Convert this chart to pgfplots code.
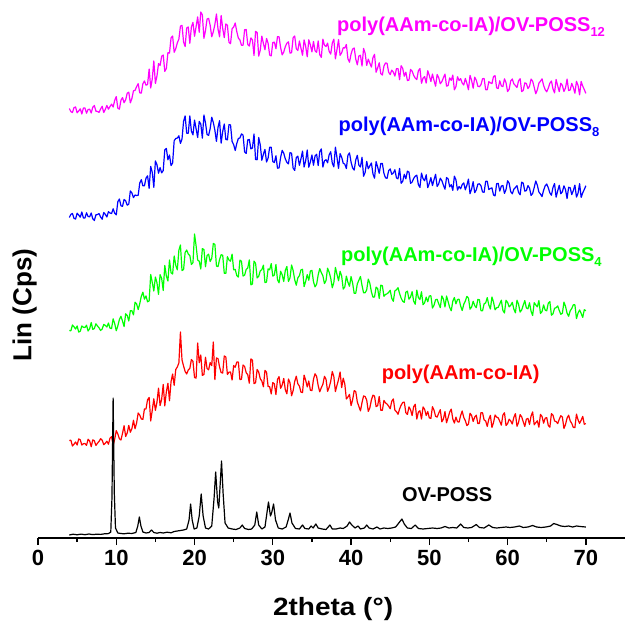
\documentclass[border=0pt]{standalone}
\usepackage{fontspec}
\setmainfont{Liberation Sans}
\usepackage{pgfplots}
\pgfplotsset{compat=1.18}
\definecolor{cmag}{RGB}{255,0,255}
\definecolor{cblu}{RGB}{0,0,255}
\definecolor{cgrn}{RGB}{0,255,0}
\definecolor{cred}{RGB}{255,0,0}
\begin{document}
\begin{tikzpicture}
\begin{axis}[
  scale only axis, width=587pt, height=538pt,
  xmin=0, xmax=75, ymin=0, ymax=538,
  axis x line*=bottom, hide y axis,
  x axis line style={-, line width=1.3pt},
  xtick={0,10,...,70}, minor xtick={5,15,...,65},
  tick align=outside, major tick length=7pt, minor tick length=4pt,
  tick style={black, line width=1.3pt},
  xticklabel style={font=\fontsize{22}{22}\selectfont\bfseries, yshift=-2pt},
  /pgf/number format/assume math mode=true,
  clip=false, no markers,
  every axis plot/.append style={line width=1.2pt, line join=round},
]
% magenta
\addplot[cmag] coordinates {
(4.0,429.5)(4.2,426.4)(4.4,425.5)(4.6,430.4)(4.8,431)(5.0,425.2)(5.2,427)(5.4,429.2)(5.6,424)(5.8,430)(6.0,430)(6.2,424.8)(6.4,428.5)(6.6,428.8)(6.8,425)(7.0,430.8)(7.2,432.5)(7.4,426.8)(7.6,426.5)(7.8,425.6)
(8.0,429)(8.2,431.7)(8.4,425.5)(8.6,428.7)(8.8,432.5)(9.0,428.8)(9.2,431.5)(9.4,433.9)(9.6,431)(9.8,437.6)(10.0,441.4)(10.2,429.9)(10.4,428.8)(10.6,437.8)(10.8,440.4)(11.0,435.3)(11.2,438.2)(11.4,444.8)(11.6,445.8)(11.8,435.1)
(12.0,439.6)(12.2,447.2)(12.4,447.6)(12.6,451.4)(12.8,454.3)(13.0,445.2)(13.2,444.9)(13.4,454.2)(13.6,457.1)(13.8,452.8)(14.0,453.5)(14.2,469)(14.4,450)(14.6,459.1)(14.8,477)(15.0,454.5)(15.2,462)(15.4,474.4)(15.6,472.5)(15.8,481.7)
(16.0,483)(16.2,466.6)(16.4,469.5)(16.6,485.3)(16.8,484.9)(17.0,500.1)(17.2,502)(17.4,485.7)(17.6,489.3)(17.8,495.1)(18.0,498.9)(18.2,511.8)(18.4,512.7)(18.6,496)(18.8,491.5)(19.0,510)(19.2,511)(19.4,494.7)(19.6,511)(19.8,515.6)
(20.0,501.7)(20.2,511.3)(20.4,521.1)(20.6,505.7)(20.8,526)(21.0,523.1)(21.2,499.7)(21.4,507.4)(21.6,518.9)(21.8,519.7)(22.0,512.6)(22.2,501.2)(22.4,506.3)(22.6,513.5)(22.8,524)(23.0,509)(23.2,501.2)(23.4,522.5)(23.6,509.6)(23.8,500.4)
(24.0,514)(24.2,512.8)(24.4,495.8)(24.6,494.3)(24.8,509.2)(25.0,510.9)(25.2,515)(25.4,506.4)(25.6,499.9)(25.8,498)(26.0,492.7)(26.2,492.7)(26.4,508.2)(26.6,508.5)(26.8,493.6)(27.0,492)(27.2,500.1)(27.4,498)(27.6,482.5)(27.8,506.7)
(28.0,505.5)(28.2,481.9)(28.4,488)(28.6,501.9)(28.8,494.5)(29.0,488.3)(29.2,499.5)(29.4,494.8)(29.6,482.9)(29.8,482.1)(30.0,495.4)(30.2,495.9)(30.4,489.3)(30.6,501.4)(30.8,501.2)(31.0,490.4)(31.2,483.1)(31.4,486)(31.6,491.4)(31.8,494.8)
(32.0,496.2)(32.2,484.9)(32.4,485.3)(32.6,500.3)(32.8,502)(33.0,489.3)(33.2,487.5)(33.4,497)(33.6,489.8)(33.8,482.7)(34.0,498.1)(34.2,491.6)(34.4,481.2)(34.6,498.2)(34.8,493.1)(35.0,486.1)(35.2,496.6)(35.4,487.2)(35.6,485.7)(35.8,497.1)
(36.0,483.3)(36.2,480.6)(36.4,498.8)(36.6,492.7)(36.8,491.5)(37.0,494.9)(37.2,486.6)(37.4,483.9)(37.6,494.9)(37.8,498.8)(38.0,479.2)(38.2,488.3)(38.4,498.4)(38.6,482.7)(38.8,485.2)(39.0,490.3)(39.2,490)(39.4,493.5)(39.6,479.2)(39.8,475.8)
(40.0,484)(40.2,488.9)(40.4,490)(40.6,478.9)(40.8,473.2)(41.0,482.1)(41.2,482.7)(41.4,471.9)(41.6,489.6)(41.8,484.7)(42.0,472.6)(42.2,478.9)(42.4,474.8)(42.6,470.9)(42.8,480.5)(43.0,483.7)(43.2,465.8)(43.4,470.1)(43.6,475.2)(43.8,464.3)
(44.0,463)(44.2,471.9)(44.4,475.1)(44.6,474.7)(44.8,465.9)(45.0,463.4)(45.2,467.9)(45.4,465.9)(45.6,461.9)(45.8,469.3)(46.0,469.4)(46.2,458.3)(46.4,472.3)(46.6,469.6)(46.8,461.8)(47.0,465.8)(47.2,457.5)(47.4,457.9)(47.6,468.6)(47.8,466.9)
(48.0,462.6)(48.2,459.9)(48.4,458.4)(48.6,467.3)(48.8,469.4)(49.0,454.7)(49.2,459.9)(49.4,461.4)(49.6,454.9)(49.8,467.3)(50.0,462.6)(50.2,456.5)(50.4,463.9)(50.6,457.6)(50.8,451.8)(51.0,463.6)(51.2,460.3)(51.4,454.3)(51.6,456.3)(51.8,460.3)
(52.0,463.9)(52.2,451.8)(52.4,452.6)(52.6,460.1)(52.8,457.6)(53.0,462.9)(53.2,448.1)(53.4,451.3)(53.6,461.3)(53.8,457.5)(54.0,459.4)(54.2,454.9)(54.4,453)(54.6,459.6)(54.8,454.6)(55.0,448.3)(55.2,462.6)(55.4,457.7)(55.6,449.8)(55.8,460.8)
(56.0,457.8)(56.2,451.8)(56.4,451.3)(56.6,453.3)(56.8,459.3)(57.0,459.5)(57.2,448.3)(57.4,448.2)(57.6,456.3)(57.8,455.2)(58.0,454.3)(58.2,461.5)(58.4,462.3)(58.6,450.1)(58.8,449.5)(59.0,457.2)(59.2,452.1)(59.4,451.4)(59.6,459.2)(59.8,455.3)
(60.0,446.4)(60.2,448.7)(60.4,457.1)(60.6,459)(60.8,454.2)(61.0,452.4)(61.2,450.5)(61.4,457.1)(61.6,459.3)(61.8,446.5)(62.0,447.5)(62.2,455.2)(62.4,454.5)(62.6,449.4)(62.8,451.7)(63.0,458.9)(63.2,456.9)(63.4,450.7)(63.6,444.2)(63.8,448.2)
(64.0,454.8)(64.2,456.8)(64.4,459.2)(64.6,452.7)(64.8,448.3)(65.0,446.2)(65.2,449.9)(65.4,454.8)(65.6,457)(65.8,449.1)(66.0,445.1)(66.2,458.5)(66.4,452.2)(66.6,446.4)(66.8,454.7)(67.0,452.6)(67.2,446.5)(67.4,450.1)(67.6,458.9)(67.8,447.5)
(68.0,448)(68.2,454.6)(68.4,450.5)(68.6,444.8)(68.8,456.7)(69.0,452.7)(69.2,443.1)(69.4,456.6)(69.6,451.9)(69.8,448.4)(70.0,444.6)
};
% blue
\addplot[cblu] coordinates {
(4.0,320.5)(4.2,323.6)(4.4,324.5)(4.6,319.6)(4.8,319)(5.0,324.8)(5.2,323)(5.4,320.8)(5.6,326)(5.8,320)(6.0,320)(6.2,325.2)(6.4,321.5)(6.6,321.2)(6.8,325)(7.0,319.2)(7.2,317.5)(7.4,323.2)(7.6,323.5)(7.8,324.4)
(8.0,321)(8.2,318.8)(8.4,325.5)(8.6,323.6)(8.8,321)(9.0,326.3)(9.2,325)(9.4,324.5)(9.6,329.2)(9.8,324.8)(10.0,323.1)(10.2,336.3)(10.4,339)(10.6,332.2)(10.8,331.7)(11.0,338.5)(11.2,337.2)(11.4,332.8)(11.6,333.9)(11.8,347.1)
(12.0,345)(12.2,340.4)(12.4,343)(12.6,342.5)(12.8,342.7)(13.0,354.9)(13.2,358.3)(13.4,352.1)(13.6,352.3)(13.8,359.8)(14.0,362.2)(14.2,349.7)(14.4,371.6)(14.6,365.6)(14.8,350.7)(15.0,377.1)(15.2,373.3)(15.4,364.8)(15.6,370.4)(15.8,365.1)
(16.0,367.5)(16.2,388.2)(16.4,389.5)(16.6,378.2)(16.8,383)(17.0,372.4)(17.2,375)(17.4,397.3)(17.6,399.5)(17.8,399.9)(18.0,402.2)(18.2,394.6)(18.4,399)(18.6,416.7)(18.8,422.1)(19.0,404.7)(19.2,404.7)(19.4,422.1)(19.6,406.8)(19.8,403.1)
(20.0,417.9)(20.2,409.3)(20.4,400.5)(20.6,416.6)(20.8,414)(21.0,399.8)(21.2,423)(21.4,415.2)(21.6,403.5)(21.8,402.6)(22.0,409.5)(22.2,420.8)(22.4,415.5)(22.6,407.8)(22.8,396.6)(23.0,410.6)(23.2,417.3)(23.4,394.8)(23.6,406.5)(23.8,414)
(24.0,398.6)(24.2,398.1)(24.4,413.3)(24.6,413.1)(24.8,396.5)(25.0,393.3)(25.2,387.5)(25.4,394.6)(25.6,399.5)(25.8,400.1)(26.0,404.1)(26.2,402.9)(26.4,386.1)(26.6,384.6)(26.8,398.1)(27.0,398.5)(27.2,389.1)(27.4,390)(27.6,404.1)(27.8,378.5)
(28.0,378.3)(28.2,400.5)(28.4,393)(28.6,377.8)(28.8,383.8)(29.0,388.6)(29.2,376)(29.4,379.9)(29.6,390.8)(29.8,390.7)(30.0,376.4)(30.2,375.5)(30.4,382.2)(30.6,369.8)(30.8,370)(31.0,380.6)(31.2,387.7)(31.4,384.7)(31.6,379.1)(31.8,375.7)
(32.0,374.1)(32.2,385.4)(32.4,384.7)(32.6,369.8)(32.8,367.6)(33.0,380.5)(33.2,381.8)(33.4,372.6)(33.6,379.2)(33.8,386.9)(34.0,371)(34.2,377.2)(34.4,388)(34.6,370.8)(34.8,376.1)(35.0,383)(35.2,372.7)(35.4,382.1)(35.6,383.7)(35.8,372.4)
(36.0,386.3)(36.2,389.1)(36.4,370.9)(36.6,377.2)(36.8,378.3)(37.0,375.2)(37.2,383.2)(37.4,386.3)(37.6,375)(37.8,371.1)(38.0,390.8)(38.2,380.7)(38.4,369.6)(38.6,384.3)(38.8,380.8)(39.0,374.7)(39.2,373.9)(39.4,369.4)(39.6,382.7)(39.8,385.1)
(40.0,375.9)(40.2,370)(40.4,367.9)(40.6,378)(40.8,382.7)(41.0,372.8)(41.2,371)(41.4,380.7)(41.6,361.8)(41.8,365.6)(42.0,376.6)(42.2,369.2)(42.4,372.2)(42.6,375)(42.8,364.1)(43.0,359.8)(43.2,376.4)(43.4,371)(43.6,364.7)(43.8,374.5)
(44.0,374.6)(44.2,364.6)(44.4,360.2)(44.6,359.6)(44.8,367.3)(45.0,369.1)(45.2,363.7)(45.4,365)(45.6,368.2)(45.8,360.1)(46.0,359.2)(46.2,369.6)(46.4,354.7)(46.6,356.7)(46.8,363.7)(47.0,359.2)(47.2,366.8)(47.4,365.9)(47.6,354.7)(47.8,355.9)
(48.0,359.6)(48.2,361.8)(48.4,362.8)(48.6,353.4)(48.8,350.6)(49.0,364.9)(49.2,359.2)(49.4,357.3)(49.6,363.2)(49.8,350.4)(50.0,354.7)(50.2,360.4)(50.4,352.4)(50.6,358.3)(50.8,363.7)(51.0,351.5)(51.2,354.2)(51.4,359.8)(51.6,357.3)(51.8,352.9)
(52.0,348.8)(52.2,360.5)(52.4,359.1)(52.6,351.2)(52.8,353.3)(53.0,347.6)(53.2,361.8)(53.4,358.3)(53.6,347.9)(53.8,351.5)(54.0,349.2)(54.2,353.4)(54.4,355.1)(54.6,348.2)(54.8,352.8)(55.0,358.9)(55.2,344.3)(55.4,348.9)(55.6,356.4)(55.8,345.3)
(56.0,348.1)(56.2,353.9)(56.4,354.2)(56.6,352.2)(56.8,346)(57.0,345.7)(57.2,356.7)(57.4,356.8)(57.6,348.5)(57.8,349.5)(58.0,350.2)(58.2,343)(58.4,342.1)(58.6,354.2)(58.8,354.6)(59.0,346.9)(59.2,351.9)(59.4,352.5)(59.6,344.6)(59.8,348.4)
(60.0,357.2)(60.2,354.8)(60.4,346.3)(60.6,344.2)(60.8,348.8)(61.0,350.5)(61.2,352.3)(61.4,345.6)(61.6,343.2)(61.8,355.9)(62.0,354.8)(62.2,346.9)(62.4,347.4)(62.6,352.4)(62.8,350)(63.0,342.6)(63.2,344.5)(63.4,350.5)(63.6,357)(63.8,352.8)
(64.0,346)(64.2,343.9)(64.4,341.4)(64.6,347.7)(64.8,352.1)(65.0,354)(65.2,350.2)(65.4,345.1)(65.6,342.8)(65.8,350.5)(66.0,354.4)(66.2,340.8)(66.4,347.1)(66.6,352.7)(66.8,344.3)(67.0,346.2)(67.2,352.2)(67.4,348.4)(67.6,339.5)(67.8,350.7)
(68.0,350.2)(68.2,343.4)(68.4,347.4)(68.6,352.9)(68.8,340.9)(69.0,344.7)(69.2,354.3)(69.4,340.6)(69.6,345.2)(69.8,348.5)(70.0,352.3)
};
% green
\addplot[cgrn] coordinates {
(4.0,207.5)(4.2,207.2)(4.4,213)(4.6,211.2)(4.8,209)(5.0,212)(5.2,206)(5.4,206.8)(5.6,212)(5.8,210.8)(6.0,210.5)(6.2,212.8)(6.4,207)(6.6,209.3)(6.8,215.5)(7.0,208.6)(7.2,209.5)(7.4,214.2)(7.6,212)(7.8,210.2)
(8.0,207.5)(8.2,209)(8.4,213.5)(8.6,212.6)(8.8,211)(9.0,215)(9.2,209.8)(9.4,209.5)(9.6,219.2)(9.8,214.5)(10.0,207.3)(10.2,212.1)(10.4,218.5)(10.6,221.7)(10.8,216.9)(11.0,211.4)(11.2,224.2)(11.4,222.6)(11.6,217)(11.8,227.3)
(12.0,227.2)(12.2,223.1)(12.4,235.8)(12.6,234.1)(12.8,228.4)(13.0,234.3)(13.2,241.7)(13.4,245.8)(13.6,238.8)(13.8,242.1)(14.0,236.2)(14.2,237.1)(14.4,263.5)(14.6,255.6)(14.8,247)(15.0,261)(15.2,255.2)(15.4,243.6)(15.6,263.3)(15.8,259.7)
(16.0,247.5)(16.2,272.6)(16.4,262)(16.6,257)(16.8,278)(17.0,265.2)(17.2,264)(17.4,282)(17.6,272.8)(17.8,268.2)(18.0,287.8)(18.2,293)(18.4,267.5)(18.6,268.4)(18.8,285.5)(19.0,288)(19.2,284)(19.4,282.4)(19.6,273.5)(19.8,275.4)
(20.0,304)(20.2,292.2)(20.4,278)(20.6,276.8)(20.8,269)(21.0,289.4)(21.2,288.5)(21.4,271.2)(21.6,282.5)(21.8,283.8)(22.0,276.5)(22.2,279.6)(22.4,294.5)(22.6,293.6)(22.8,272)(23.0,271.4)(23.2,278.5)(23.4,283.3)(23.6,282.8)(23.8,264.8)
(24.0,264.6)(24.2,281.3)(24.4,277.9)(24.6,276.8)(24.8,283.8)(25.0,268.2)(25.2,268.6)(25.4,262.3)(25.6,260.9)(25.8,277.9)(26.0,276.7)(26.2,262)(26.4,262.9)(26.6,268.6)(26.8,270)(27.0,278.1)(27.2,253.2)(27.4,254)(27.6,276.9)(27.8,274.6)
(28.0,260)(28.2,261.7)(28.4,267.2)(28.6,268.3)(28.8,272.8)(29.0,255.4)(29.2,256)(29.4,269.2)(29.6,268.2)(29.8,274.4)(30.0,261.9)(30.2,263)(30.4,273.5)(30.6,258.3)(30.8,255.2)(31.0,266.7)(31.2,263.2)(31.4,256.5)(31.6,267.7)(31.8,271.5)
(32.0,256.5)(32.2,260.2)(32.4,273)(32.6,267.5)(32.8,258.2)(33.0,252.8)(33.2,260.2)(33.4,262.3)(33.6,268.2)(33.8,268.7)(34.0,251.4)(34.2,256.6)(34.4,263.4)(34.6,257.7)(34.8,267)(35.0,267.6)(35.2,256.2)(35.4,251.1)(35.6,253.8)(35.8,263.2)
(36.0,269.4)(36.2,265.4)(36.4,262.2)(36.6,254.4)(36.8,257.4)(37.0,269.8)(37.2,265.8)(37.4,259.9)(37.6,250.2)(37.8,255.5)(38.0,270.6)(38.2,263.7)(38.4,257.3)(38.6,266.7)(38.8,261.9)(39.0,248.9)(39.2,251)(39.4,261.9)(39.6,255.7)(39.8,251.7)
(40.0,261.5)(40.2,254.8)(40.4,244.6)(40.6,244.7)(40.8,254.1)(41.0,257.8)(41.2,261.5)(41.4,252.6)(41.6,245.2)(41.8,245.3)(42.0,248.1)(42.2,258.9)(42.4,254.7)(42.6,246.2)(42.8,240.8)(43.0,241.1)(43.2,250.9)(43.4,249.4)(43.6,239.5)(43.8,252.8)
(44.0,252.3)(44.2,241.7)(44.4,243.5)(44.6,244.2)(44.8,245.6)(45.0,247.7)(45.2,239.7)(45.4,236.7)(45.6,247.2)(45.8,248.2)(46.0,250.3)(46.2,244.4)(46.4,239.8)(46.6,236.7)(46.8,235.7)(47.0,245.8)(47.2,246.9)(47.4,238.8)(47.6,240.9)(47.8,246.3)
(48.0,236.8)(48.2,233.7)(48.4,247.9)(48.6,240.4)(48.8,238.4)(49.0,246.2)(49.2,233.3)(49.4,235.3)(49.6,240.9)(49.8,236.3)(50.0,242.1)(50.2,242.2)(50.4,229.9)(50.6,232.8)(50.8,238.3)(51.0,238.7)(51.2,234.2)(51.4,230.3)(51.6,242.1)(51.8,238.9)
(52.0,231.1)(52.2,242)(52.4,236.4)(52.6,230.6)(52.8,227.2)(53.0,236.8)(53.2,240.5)(53.4,234.2)(53.6,238.5)(53.8,238.8)(54.0,232)(54.2,227.5)(54.4,233.7)(54.6,236.9)(54.8,241.6)(55.0,239.9)(55.2,228.8)(55.4,230.9)(55.6,236.7)(55.8,232.4)
(56.0,230.3)(56.2,238.6)(56.4,238.2)(56.6,227.2)(56.8,227.2)(57.0,234.2)(57.2,235.1)(57.4,240.4)(57.6,233.1)(57.8,229)(58.0,241)(58.2,236)(58.4,228.2)(58.6,230.2)(58.8,230.7)(59.0,234.1)(59.2,237.8)(59.4,227.5)(59.6,225)(59.8,237.7)
(60.0,235.6)(60.2,231.1)(60.4,232.7)(60.6,235.7)(60.8,228.9)(61.0,225.2)(61.2,237.8)(61.4,233.8)(61.6,225.9)(61.8,228)(62.0,232.9)(62.2,237.4)(62.4,230)(62.6,229.2)(62.8,235.2)(63.0,226.7)(63.2,222.5)(63.4,235.3)(63.6,233.1)(63.8,231.1)
(64.0,237.4)(64.2,224.5)(64.4,226.4)(64.6,233.1)(64.8,227.9)(65.0,227.2)(65.2,234.8)(65.4,236.5)(65.6,222.8)(65.8,224.2)(66.0,229.7)(66.2,230.3)(66.4,232.1)(66.6,227.6)(66.8,223.7)(67.0,224.8)(67.2,235.9)(67.4,231.7)(67.6,224.8)(67.8,221.8)
(68.0,227.2)(68.2,229.5)(68.4,233.2)(68.6,233.2)(68.8,219.4)(69.0,224.9)(69.2,228.1)(69.4,224.6)(69.6,220.6)(69.8,228.3)(70.0,227.2)
};
% red
\addplot[cred] coordinates {
(4.0,97.5)(4.2,97.8)(4.4,92)(4.6,93.8)(4.8,96)(5.0,93)(5.2,99)(5.4,98.2)(5.6,93)(5.8,94.2)(6.0,94.5)(6.2,92.6)(6.4,98.8)(6.6,97)(6.8,91.3)(7.0,98.2)(7.2,97.3)(7.4,92.6)(7.6,94.8)(7.8,96.6)
(8.0,99.3)(8.2,97.8)(8.4,93.3)(8.6,94.7)(8.8,96.8)(9.0,93.8)(9.2,99.9)(9.4,101.3)(9.6,92.6)(9.8,98.8)(10.0,107.4)(10.2,104.1)(10.4,99.2)(10.6,98)(10.8,104.7)(11.0,112.3)(11.2,101.5)(11.4,105.1)(11.6,112.6)(11.8,105.8)
(12.0,109.4)(12.2,117.7)(12.4,109.2)(12.6,115.1)(12.8,125)(13.0,122.9)(13.2,119.1)(13.4,118.6)(13.6,129.1)(13.8,129.1)(14.0,138.3)(14.2,140.5)(14.4,117)(14.6,127.8)(14.8,139.2)(15.0,127.6)(15.2,135.8)(15.4,149.9)(15.6,132.5)(15.8,138.8)
(16.0,153.6)(16.2,132.1)(16.4,146.2)(16.6,154.7)(16.8,137.2)(17.0,156.4)(17.2,164)(17.4,152.7)(17.6,168.5)(17.8,171)(18.0,175)(18.2,206)(18.4,178)(18.6,172)(18.8,166.5)(19.0,164)(19.2,168)(19.4,169.6)(19.6,178.5)(19.8,176.6)
(20.0,160.5)(20.2,159.8)(20.4,195)(20.6,175.2)(20.8,183)(21.0,162.6)(21.2,163.5)(21.4,180.8)(21.6,169.5)(21.8,168.2)(22.0,175.5)(22.2,172.4)(22.4,196)(22.6,158.4)(22.8,180)(23.0,179.4)(23.2,171)(23.4,165.4)(23.6,165)(23.8,182)
(24.0,181.1)(24.2,163.5)(24.4,165.8)(24.6,166)(24.8,158)(25.0,172.5)(25.2,170.8)(25.4,175.9)(25.6,176)(25.8,158.4)(26.0,158.8)(26.2,173)(26.4,171.5)(26.6,165.3)(26.8,163.3)(27.0,154.8)(27.2,179.1)(27.4,177.8)(27.6,154.3)(27.8,155.3)
(28.0,168.6)(28.2,165.9)(28.4,159.2)(28.6,157)(28.8,151.3)(29.0,167.6)(29.2,165.8)(29.4,151.5)(29.6,151.3)(29.8,144.1)(30.0,155.4)(30.2,154.1)(30.4,143.4)(30.6,158.5)(30.8,161.4)(31.0,149.7)(31.2,153)(31.4,159.6)(31.6,148.2)(31.8,144.2)
(32.0,159)(32.2,155.2)(32.4,142.2)(32.6,147.5)(32.8,156.6)(33.0,161.8)(33.2,154.2)(33.4,151.9)(33.6,145.8)(33.8,145.5)(34.0,162.9)(34.2,157.8)(34.4,151.1)(34.6,157)(34.8,147.8)(35.0,147.4)(35.2,158.9)(35.4,164.2)(35.6,161.6)(35.8,152.3)
(36.0,146.2)(36.2,150.4)(36.4,153.7)(36.6,161.7)(36.8,158.8)(37.0,146.6)(37.2,150.7)(37.4,156.7)(37.6,166.5)(37.8,161.4)(38.0,146.4)(38.2,152.7)(38.4,158.4)(38.6,166)(38.8,150.4)(39.0,159.8)(39.2,154)(39.4,139)(39.6,141)(39.8,143.6)
(40.0,132.4)(40.2,138.2)(40.4,147.4)(40.6,146.4)(40.8,136)(41.0,131.6)(41.2,127.1)(41.4,135.4)(41.6,142.1)(41.8,141.4)(42.0,137.9)(42.2,126.6)(42.4,130.2)(42.6,138.1)(42.8,142.8)(43.0,141.9)(43.2,131.4)(43.4,132.3)(43.6,141.6)(43.8,127.8)
(44.0,127.6)(44.2,137.6)(44.4,135.1)(44.6,133.9)(44.8,131.9)(45.0,129.3)(45.2,136.7)(45.4,139.1)(45.6,127.9)(45.8,126.4)(46.0,123.7)(46.2,129)(46.4,132.9)(46.6,135.5)(46.8,135.9)(47.0,125.3)(47.2,123.6)(47.4,131.1)(47.6,128.3)(47.8,122.4)
(48.0,131.3)(48.2,133.8)(48.4,118.9)(48.6,125.9)(48.8,127.3)(49.0,118.9)(49.2,131.1)(49.4,128.7)(49.6,122.5)(49.8,126.5)(50.0,120.1)(50.2,119.6)(50.4,131.3)(50.6,127.8)(50.8,121.7)(51.0,120.9)(51.2,124.8)(51.4,128.3)(51.6,116.1)(51.8,119)
(52.0,126.4)(52.2,115.2)(52.4,120.4)(52.6,125.9)(52.8,128.9)(53.0,119)(53.2,114.9)(53.4,120.9)(53.6,116.3)(53.8,115.9)(54.0,122.5)(54.2,127)(54.4,120.6)(54.6,117.3)(54.8,112.4)(55.0,113.9)(55.2,124.8)(55.4,122.6)(55.6,116.6)(55.8,120.9)
(56.0,122.8)(56.2,114.4)(56.4,114.6)(56.6,125.4)(56.8,125.2)(57.0,118.1)(57.2,117)(57.4,111.6)(57.6,118.7)(57.8,122.7)(58.0,110.5)(58.2,115.4)(58.4,123)(58.6,120.9)(58.8,120.2)(59.0,116.7)(59.2,112.8)(59.4,123)(59.6,125.3)(59.8,112.5)
(60.0,114.4)(60.2,118.8)(60.4,117.1)(60.6,114)(60.8,120.7)(61.0,124.4)(61.2,111.7)(61.4,115.6)(61.6,123.4)(61.8,121.2)(62.0,116.2)(62.2,111.6)(62.4,118.9)(62.6,119.6)(62.8,113.5)(63.0,122)(63.2,126.1)(63.4,113.2)(63.6,115.3)(63.8,117.2)
(64.0,110.8)(64.2,123.6)(64.4,121.6)(64.6,114.8)(64.8,119.8)(65.0,120.4)(65.2,112.6)(65.4,110.8)(65.6,124.3)(65.8,122.8)(66.0,117.1)(66.2,116.4)(66.4,114.4)(66.6,118.7)(66.8,122.3)(67.0,120.9)(67.2,109.5)(67.4,113.5)(67.6,120)(67.8,122.8)
(68.0,117.1)(68.2,114.6)(68.4,110.6)(68.6,110.4)(68.8,123.9)(69.0,118.2)(69.2,114.6)(69.4,117.9)(69.6,121.6)(69.8,113.7)(70.0,114.5)
};
% black OV-POSS
\addplot[black, line width=1.2pt] coordinates {
(4.0,3)(4.5,3.8)(5.0,3.2)(5.5,3.9)(6.0,3.3)(6.5,4)(7.0,3.4)(7.5,3.8)(8.0,3.6)(8.5,4.2)(9.0,4.4)
(9.3,6)(9.45,40)(9.6,140)(9.75,45)(9.9,10)(10.2,5)(10.6,4.5)(11.0,4.2)(11.5,4.8)(12.0,4.5)(12.5,5.5)
(12.75,12)(12.95,21)(13.15,12)(13.4,6)(13.8,5)(14.2,5.5)(14.5,8)(14.8,5.5)(15.2,4.8)(15.6,5.5)(16.0,5)
(16.5,5.8)(17.0,5.2)(17.4,6.5)(17.8,7)(18.2,7.5)(18.6,8)(19.0,9)(19.3,18)(19.5,34)(19.7,18)(19.95,9)
(20.3,10)(20.6,22)(20.85,44)(21.1,22)(21.4,10)(21.8,9)(22.2,12)(22.5,40)(22.7,66)(22.95,36)(23.1,30)
(23.25,50)(23.45,77)(23.65,45)(23.9,15)(24.3,10)(24.8,9)(25.3,8.5)(25.8,10)(26.1,13)(26.4,9.5)(26.9,8.5)
(27.3,9)(27.7,13)(27.95,26)(28.2,13)(28.6,9)(29.0,11)(29.25,25)(29.45,36)(29.7,22)(29.85,25)(30.1,34)
(30.35,18)(30.7,10)(31.2,9)(31.7,11)(32.0,19)(32.2,25)(32.45,15)(32.9,9.5)(33.4,9)(33.8,13)(34.1,9.5)
(34.6,9)(34.9,12)(35.15,10)(35.5,14)(35.8,10)(36.3,9)(36.8,8.5)(37.3,13)(37.6,9)(38.1,9)(38.6,10)
(39.0,9.5)(39.5,12)(39.8,16)(40.1,13)(40.5,10)(40.9,12)(41.2,9)(41.7,10)(42.0,13)(42.3,10)(42.8,9)
(43.3,11)(43.7,9)(44.2,10)(44.7,9.5)(45.2,10)(45.7,11)(46.2,16)(46.5,19)(46.8,14)(47.2,10)(47.7,9.5)
(48.2,13)(48.6,9.5)(49.2,9)(49.8,9.5)(50.4,10)(51.0,9.5)(51.5,10)(52.0,11.5)(52.5,10)(53.0,10.5)(53.5,10)
(54.0,14)(54.4,10.5)(54.9,10)(55.4,10.5)(56.0,13.5)(56.4,10.5)(57.0,10)(57.6,13)(58.1,10.5)(58.6,10)
(59.2,10.5)(59.8,11)(60.3,10.5)(60.9,11)(61.5,12)(62.0,10.5)(62.6,11)(63.2,12.5)(63.7,11)(64.3,10.5)
(64.9,11)(65.5,12)(65.9,14.5)(66.3,13.5)(66.8,12)(67.3,11.5)(67.8,12)(68.3,11)(68.8,12)(69.3,11.5)(70.0,11)
};
% labels
\node[anchor=west, text=cmag, font=\fontsize{20}{20}\selectfont\bfseries, inner sep=0pt] at (axis cs:38.2,511) {poly(AAm-co-IA)/OV-POSS\raisebox{-0.45ex}{\fontsize{13}{13}\selectfont 12}};
\node[anchor=west, text=cblu, font=\fontsize{20}{20}\selectfont\bfseries, inner sep=0pt] at (axis cs:38.4,411) {poly(AAm-co-IA)/OV-POSS\raisebox{-0.45ex}{\fontsize{13}{13}\selectfont 8}};
\node[anchor=west, text=cgrn, font=\fontsize{20}{20}\selectfont\bfseries, inner sep=0pt] at (axis cs:38.7,281) {poly(AAm-co-IA)/OV-POSS\raisebox{-0.45ex}{\fontsize{13}{13}\selectfont 4}};
\node[anchor=west, text=cred, font=\fontsize{20}{20}\selectfont\bfseries, inner sep=0pt] at (axis cs:43.9,164) {poly(AAm-co-IA)};
\node[anchor=west, text=black, font=\fontsize{20}{20}\selectfont\bfseries, inner sep=0pt] at (axis cs:46.5,43.5) {OV-POSS};
\node[font=\fontsize{25}{25}\selectfont\bfseries] at (axis cs:37.7,-71) {\scalebox{1.12}[1]{2theta (°)}};
\node[rotate=90, font=\fontsize{26}{26}\selectfont\bfseries] at (axis cs:-1.72,233) {Lin (Cps)};
\end{axis}
\pgfresetboundingbox
\useasboundingbox (-38pt,-87pt) rectangle (587pt,538pt);
\end{tikzpicture}
\end{document}
